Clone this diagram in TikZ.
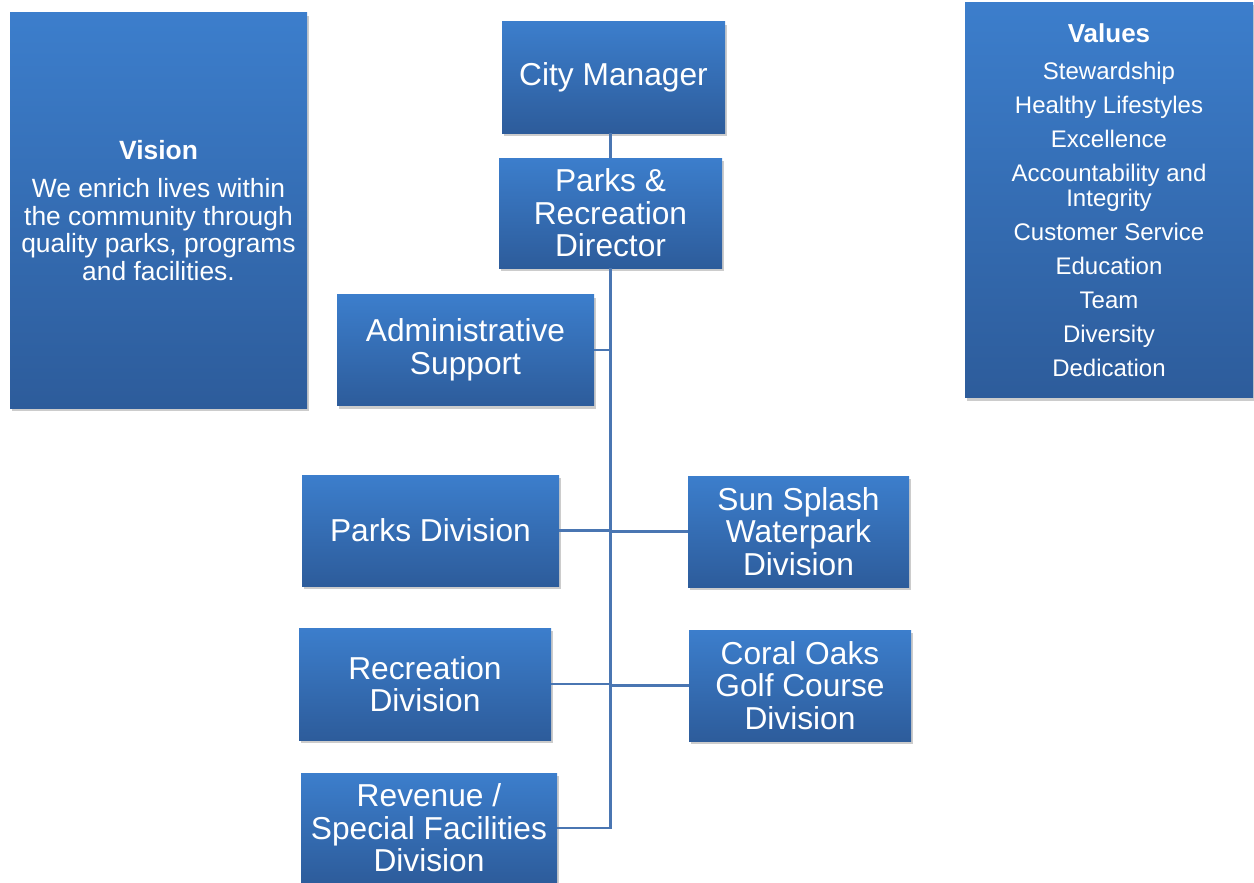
\documentclass[tikz,border=0pt]{standalone}
\usepackage{fontspec}
\setmainfont{Liberation Sans}
\usetikzlibrary{positioning, shadows}
\definecolor{boxtop}{RGB}{60,126,204}
\definecolor{boxbot}{RGB}{45,92,155}
\definecolor{linkblue}{RGB}{74,118,178}

\begin{document}
\begin{tikzpicture}[x=1pt, y=-1pt,
  orgbox/.style={top color=boxtop, bottom color=boxbot, draw=none,
        text=white, align=center, inner sep=0pt,
        font=\fontsize{31.7}{32.5}\selectfont,
        drop shadow={shadow xshift=2pt, shadow yshift=-3pt,
                     fill=black, opacity=0.2}},
  link/.style={draw=linkblue, line width=2.2pt}]
  \clip (0,0) rectangle (1254,883);

  \node[orgbox, minimum width=297pt, minimum height=395pt,
        font=\fontsize{26.4}{27.5}\selectfont] (vision) at (158.5,210.5)
    {{\bfseries Vision}\\[10.5pt]We enrich lives within\\the community through\\
     quality parks, programs\\and facilities.};
  \node[orgbox, minimum width=288pt, minimum height=395pt,
        font=\fontsize{24}{25}\selectfont] (values) at (1109,200)
    {{\bfseries\fontsize{26}{26}\selectfont Values}\\[12pt]Stewardship\\[9pt]
     Healthy Lifestyles\\[9pt]Excellence\\[9pt]Accountability and\\Integrity\\[9pt]
     Customer Service\\[9pt]Education\\[9pt]Team\\[9pt]Diversity\\[9pt]Dedication};

  \node[orgbox, minimum width=223pt, minimum height=111pt] (cm) at (613.5,77.5)
    {City Manager};
  \node[orgbox, minimum width=223pt, minimum height=110pt] (dir) at (610.5,213)
    {Parks \&\\Recreation\\Director};
  \node[orgbox, minimum width=257pt, minimum height=111pt] (adm) at (465.5,350)
    {Administrative\\Support};
  \node[orgbox, minimum width=257pt, minimum height=111pt] (parks) at (430.5,530.5)
    {Parks Division};
  \node[orgbox, minimum width=221pt, minimum height=111pt] (sun) at (798.5,531.5)
    {Sun Splash\\Waterpark\\Division};
  \node[orgbox, minimum width=252pt, minimum height=112pt] (rec) at (425,684)
    {Recreation\\Division};
  \node[orgbox, minimum width=222pt, minimum height=111pt] (coral) at (800,685.5)
    {Coral Oaks\\Golf Course\\Division};
  \node[orgbox, minimum width=256pt, minimum height=110pt] (rev) at (429,828)
    {Revenue /\\Special Facilities\\Division};

  \draw[link] (dir.north) -- (dir.north |- cm.south);
  \draw[link] (dir.south) |- (rev.east);
  \draw[link] (adm.east) -- (adm.east -| dir.south);
  \draw[link] (parks.east) -- (parks.east -| dir.south);
  \draw[link] (sun.west) -- (sun.west -| dir.south);
  \draw[link] (rec.east) -- (rec.east -| dir.south);
  \draw[link] (coral.west) -- (coral.west -| dir.south);
\end{tikzpicture}
\end{document}
